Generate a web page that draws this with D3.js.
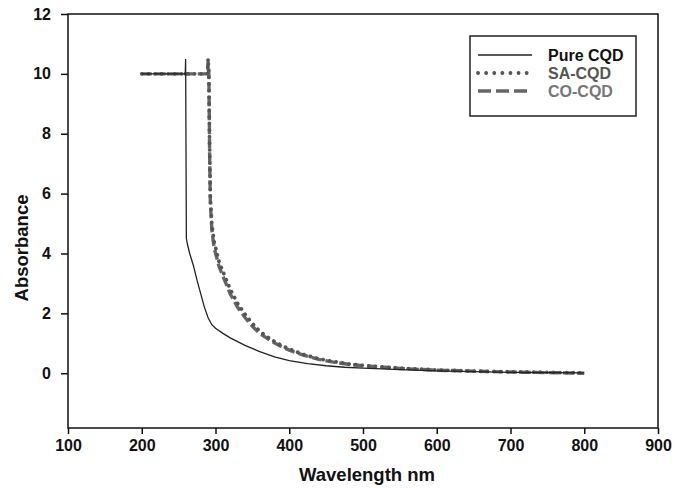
<!DOCTYPE html>
<html>
<head>
<meta charset="utf-8">
<script src="https://cdn.jsdelivr.net/npm/d3@7"></script>
<style>
  body { margin: 0; background: #fff; }
  svg text { font-family: "Liberation Sans", Arial, sans-serif; font-weight: bold; }
</style>
</head>
<body>
<div id="chart"></div>
<script>
// x ticks / y ticks
const xTicks = [100, 200, 300, 400, 500, 600, 700, 800, 900];
const yTicks = [0, 2, 4, 6, 8, 10, 12];

// Pure CQD
const pureWl  = [200, 259, 259.5, 260.5, 262, 265, 270, 275, 280, 285, 290, 295, 300, 310, 320, 340, 360, 380, 400, 425, 450, 475, 500, 550, 600, 650, 700, 750, 800];
const pureAbs = [10, 10, 10.5, 4.5, 4.3, 4.0, 3.6, 3.1, 2.65, 2.2, 1.85, 1.62, 1.5, 1.33, 1.18, 0.93, 0.72, 0.55, 0.42, 0.32, 0.25, 0.2, 0.17, 0.12, 0.08, 0.05, 0.03, 0.02, 0.01];

// SA-CQD
const saWl  = [200, 289, 290, 291, 292, 293, 295, 298, 305, 310, 320, 330, 340, 350, 360, 375, 390, 400, 420, 440, 460, 480, 500, 550, 600, 650, 700, 750, 800];
const saAbs = [10, 10, 10.5, 10, 7.6, 5.9, 5.0, 4.4, 3.7, 3.4, 2.8, 2.33, 1.97, 1.66, 1.4, 1.13, 0.92, 0.81, 0.62, 0.48, 0.39, 0.31, 0.26, 0.17, 0.11, 0.07, 0.05, 0.03, 0.01];

// CO-CQD
const coWl  = [200, 289, 290, 291, 292, 293, 295, 298, 305, 310, 320, 330, 340, 350, 360, 375, 390, 400, 420, 440, 460, 480, 500, 550, 600, 650, 700, 750, 800];
const coAbs = [10, 10, 10.4, 10, 7.4, 5.7, 4.8, 4.2, 3.55, 3.25, 2.65, 2.2, 1.86, 1.57, 1.33, 1.08, 0.88, 0.77, 0.6, 0.46, 0.37, 0.3, 0.25, 0.16, 0.1, 0.07, 0.04, 0.02, 0.0];

const W = 675, H = 488;
const margin = {top: 14, right: 17, bottom: 60, left: 68};

const svg = d3.select("#chart").append("svg")
  .attr("width", W)
  .attr("height", H);

const x = d3.scaleLinear().domain([100, 900]).range([margin.left, W - margin.right]);
const y = d3.scaleLinear().domain([-1.83, 12]).range([H - margin.bottom, margin.top]);

// frame
svg.append("rect")
  .attr("x", margin.left).attr("y", margin.top)
  .attr("width", W - margin.left - margin.right)
  .attr("height", H - margin.top - margin.bottom)
  .attr("fill", "none").attr("stroke", "#111").attr("stroke-width", 1.5);

// x axis
const xAxis = svg.append("g")
  .attr("transform", "translate(0," + (H - margin.bottom) + ")")
  .call(d3.axisBottom(x).tickValues(xTicks).tickSize(6).tickPadding(6).tickFormat(d3.format("d")));
xAxis.select(".domain").remove();
xAxis.selectAll("line").attr("stroke", "#111").attr("stroke-width", 1.5);
xAxis.selectAll("text").attr("font-size", 16).attr("fill", "#111");

// y axis
const yAxis = svg.append("g")
  .attr("transform", "translate(" + margin.left + ",0)")
  .call(d3.axisLeft(y).tickValues(yTicks).tickSize(7).tickPadding(10).tickFormat(d3.format("d")));
yAxis.select(".domain").remove();
yAxis.selectAll("line").attr("stroke", "#111").attr("stroke-width", 1.5);
yAxis.selectAll("text").attr("font-size", 16).attr("fill", "#111");

// titles
svg.append("text")
  .attr("x", 367).attr("y", 481)
  .attr("text-anchor", "middle")
  .attr("font-size", 18.5).attr("fill", "#111")
  .text("Wavelength nm");

svg.append("text")
  .attr("transform", "translate(28,248) rotate(-90)")
  .attr("text-anchor", "middle")
  .attr("font-size", 18.5).attr("fill", "#111")
  .text("Absorbance");

// series
const line = d3.line().x(d => x(d[0])).y(d => y(d[1]));
const zip = (a, b) => a.map((v, i) => [v, b[i]]);

const series = [
  {name: "Pure CQD", data: zip(pureWl, pureAbs), color: "#222", width: 1.3, dash: null, legDash: null, cap: "butt", text: "#111"},
  {name: "SA-CQD", data: zip(saWl, saAbs), color: "#555", width: 3.8, dash: "0.1 6.5", legDash: "0.1 8", cap: "round", text: "#555"},
  {name: "CO-CQD", data: zip(coWl, coAbs), color: "#666", width: 3.4, dash: "10 4", legDash: "13 5", cap: "butt", text: "#777"}
];

// dashed first, then dotted, solid on top
[series[2], series[1], series[0]].forEach(s => {
  svg.append("path")
    .datum(s.data)
    .attr("d", line)
    .attr("fill", "none")
    .attr("stroke", s.color)
    .attr("stroke-width", s.width)
    .attr("stroke-linecap", s.cap)
    .attr("stroke-dasharray", s.dash);
});

// legend
const lg = svg.append("g").attr("transform", "translate(470,36)");
lg.append("rect")
  .attr("width", 166).attr("height", 80)
  .attr("fill", "#fff").attr("stroke", "#222").attr("stroke-width", 1.5);

series.forEach((s, i) => {
  const ly = 19 + i * 18;
  lg.append("line")
    .attr("x1", 8).attr("x2", 62).attr("y1", ly).attr("y2", ly)
    .attr("stroke", s.color)
    .attr("stroke-width", s.width)
    .attr("stroke-linecap", s.cap)
    .attr("stroke-dasharray", s.legDash);
  lg.append("text")
    .attr("x", 78).attr("y", ly + 5.5)
    .attr("font-size", 16)
    .attr("fill", s.text)
    .text(s.name);
});
</script>
</body>
</html>
